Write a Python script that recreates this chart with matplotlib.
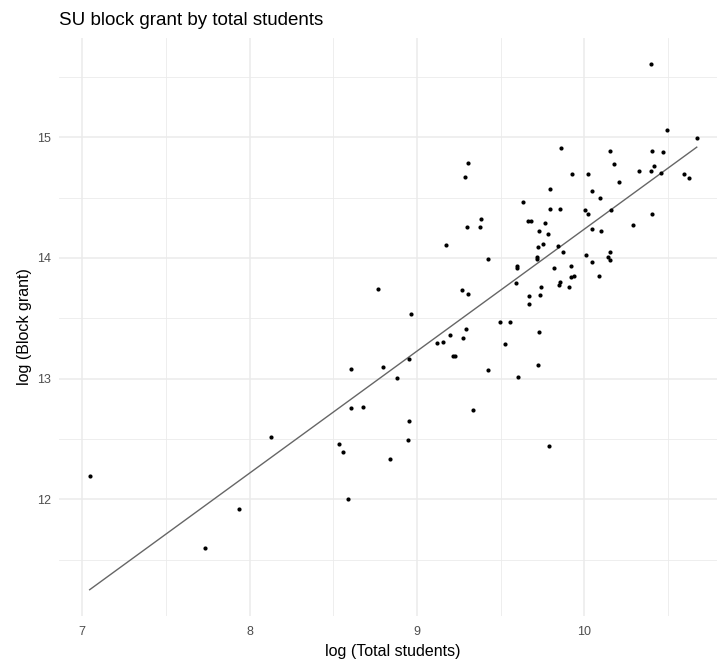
import matplotlib
matplotlib.use("Agg")
import matplotlib.pyplot as plt
import numpy as np
from matplotlib.ticker import MultipleLocator

# log of total students per institution
log_students = [
    10.397, 10.493, 10.672, 9.862, 10.154, 10.405, 10.471, 9.306, 10.178, 10.415,
    10.327, 10.399, 10.457, 9.288, 9.927, 10.024, 10.596, 10.626, 10.206, 9.798,
    10.045, 10.093, 9.633, 9.794, 9.854, 10.007, 10.023, 10.160, 10.407, 9.386,
    9.666, 9.681, 9.766, 10.292, 9.302, 9.376, 10.048, 9.728, 10.100, 9.782,
    9.171, 9.754, 9.726, 9.842, 9.873, 9.424, 9.720, 9.718, 10.009, 10.154,
    10.140, 10.156, 10.047, 9.599, 9.597, 9.818, 9.921, 9.919, 9.939, 10.087,
    8.765, 9.595, 9.854, 9.850, 9.742, 9.907, 9.272, 9.306, 9.672, 9.736,
    9.670, 8.964, 9.497, 9.555, 9.728, 9.293, 9.278, 9.197, 9.123, 9.159,
    9.529, 9.215, 9.227, 8.952, 9.722, 8.606, 8.795, 9.427, 8.882, 9.603,
    8.604, 8.679, 9.336, 8.954, 8.126, 8.534, 8.558, 8.944, 8.842, 9.790,
    8.586, 7.045, 7.935, 7.732,
]

# log of SU block grant
log_grant = [
    15.606, 15.057, 14.989, 14.912, 14.885, 14.888, 14.877, 14.787, 14.779, 14.757,
    14.716, 14.716, 14.703, 14.670, 14.691, 14.691, 14.691, 14.664, 14.626, 14.569,
    14.558, 14.493, 14.462, 14.408, 14.408, 14.400, 14.364, 14.400, 14.364, 14.321,
    14.302, 14.302, 14.291, 14.272, 14.258, 14.258, 14.241, 14.225, 14.223, 14.196,
    14.110, 14.116, 14.086, 14.102, 14.051, 13.988, 14.010, 13.988, 14.026, 14.051,
    14.010, 13.980, 13.966, 13.936, 13.920, 13.920, 13.934, 13.844, 13.849, 13.852,
    13.742, 13.791, 13.800, 13.775, 13.759, 13.756, 13.732, 13.699, 13.685, 13.691,
    13.615, 13.533, 13.472, 13.472, 13.382, 13.407, 13.336, 13.363, 13.292, 13.304,
    13.290, 13.189, 13.189, 13.161, 13.112, 13.077, 13.099, 13.074, 13.006, 13.014,
    12.755, 12.768, 12.741, 12.646, 12.515, 12.461, 12.395, 12.493, 12.330, 12.444,
    11.999, 12.196, 11.923, 11.596,
]

x_ticks = [7, 8, 9, 10]
y_ticks = [12, 13, 14, 15]

plt.rcParams["font.family"] = ["Liberation Sans", "DejaVu Sans"]

W, H = 717, 662
fig = plt.figure(figsize=(W / 100, H / 100), dpi=100)

# panel spans a little past the right edge of the canvas
left, right, top, bottom = 59.3, 727.1, 37.7, 616.0
ax = fig.add_axes([left / W, 1 - bottom / H, (right - left) / W, (bottom - top) / H])

x = np.array(log_students)
y = np.array(log_grant)

# least-squares fit drawn over the data range
slope, intercept = np.polyfit(x, y, 1)
xs = np.array([x.min(), x.max()])
ax.plot(xs, intercept + slope * xs, color="#666666", linewidth=1.0, zorder=2)

ax.scatter(x, y, s=9, color="black", linewidths=0, zorder=3)

# ggplot-style expanded limits (5% each side)
x_all = np.concatenate([x, xs])
y_all = np.concatenate([y, intercept + slope * xs])
xr = x_all.max() - x_all.min()
yr = y_all.max() - y_all.min()
ax.set_xlim(x_all.min() - 0.05 * xr, x_all.max() + 0.05 * xr)
ax.set_ylim(y_all.min() - 0.05 * yr, y_all.max() + 0.05 * yr)

ax.set_xticks(x_ticks)
ax.set_yticks(y_ticks)
ax.xaxis.set_minor_locator(MultipleLocator(0.5))
ax.yaxis.set_minor_locator(MultipleLocator(0.5))
ax.grid(True, which="major", color="#ebebeb", linewidth=1.1, zorder=0)
ax.grid(True, which="minor", color="#ebebeb", linewidth=0.6, zorder=0)
ax.set_axisbelow(True)

for s in ax.spines.values():
    s.set_visible(False)
ax.tick_params(which="both", length=0)
ax.tick_params(axis="x", pad=7.2, labelsize=9, labelcolor="#4d4d4d")
ax.tick_params(axis="y", pad=5.8, labelsize=9, labelcolor="#4d4d4d")

ax.set_xlabel("log (Total students)", fontsize=11.5, color="black", labelpad=4)
ax.set_ylabel("log (Block grant)", fontsize=11.5, color="black", labelpad=4)

fig.text(left / W, 1 - 25 / H, "SU block grant by total students",
         ha="left", va="baseline", fontsize=13.5, color="black")

fig.savefig("out.png", dpi=100)
